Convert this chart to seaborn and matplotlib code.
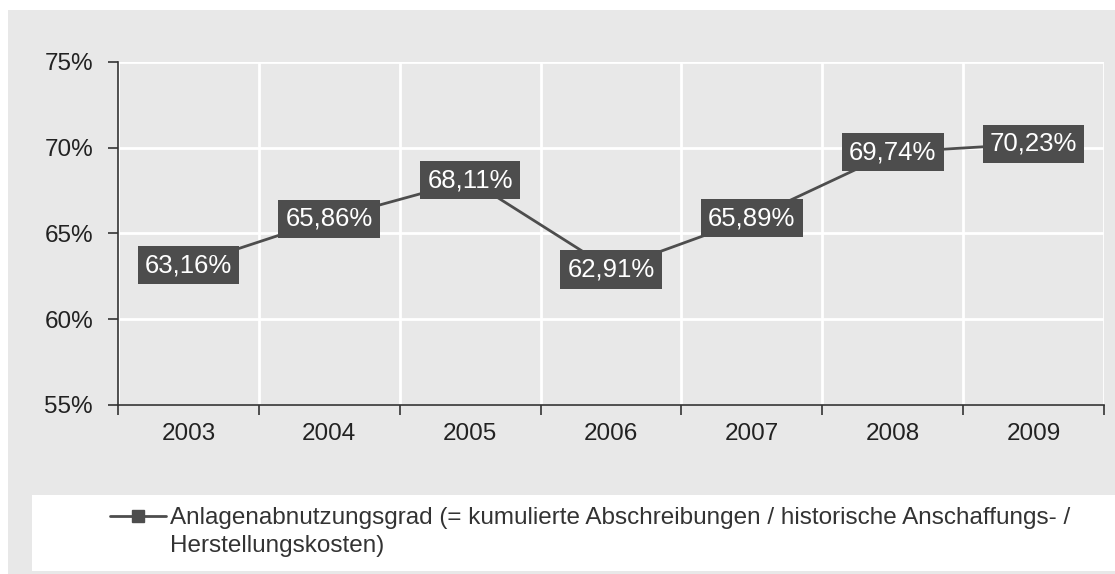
import pandas as pd
import matplotlib
matplotlib.use("Agg")
import matplotlib.pyplot as plt
from matplotlib.patches import Rectangle
from matplotlib.lines import Line2D
import seaborn as sns

# Daten
jahre = ["2003", "2004", "2005", "2006", "2007", "2008", "2009"]
werte = [63.16, 65.86, 68.11, 62.91, 65.89, 69.74, 70.23]
y_ticks = [55, 60, 65, 70, 75]
legende_z1 = "Anlagenabnutzungsgrad (= kumulierte Abschreibungen / historische Anschaffungs- /"
legende_z2 = "Herstellungskosten)"

grau = "#e8e8e8"
dunkel = "#4d4d4d"

sns.set_theme(style="white", rc={"axes.facecolor": grau})
plt.rcParams["font.family"] = ["Liberation Sans", "DejaVu Sans"]

df = pd.DataFrame({"Jahr": jahre, "Wert": werte})

fig = plt.figure(figsize=(11.15, 5.74), dpi=100, facecolor="white")
# grauer Hintergrund + weisse Legendenbox
fig.patches.append(Rectangle((8 / 1115, 0), 1, 564 / 574, transform=fig.transFigure,
                             facecolor=grau, edgecolor="none", zorder=-10))
fig.patches.append(Rectangle((32 / 1115, 3 / 574), 1, 76 / 574, transform=fig.transFigure,
                             facecolor="white", edgecolor="none", zorder=-9))

ax = fig.add_axes([118 / 1115, 1 - 405 / 574, (1104 - 118) / 1115, (405 - 62) / 574])
sns.lineplot(data=df, x="Jahr", y="Wert", ax=ax, color=dunkel, linewidth=2, sort=False)

ax.set_xlim(-0.5, len(jahre) - 0.5)
ax.set_ylim(55, 75)
ax.set_yticks(y_ticks)
ax.set_yticklabels([f"{t}%" for t in y_ticks])
ax.set_xticks(range(len(jahre)))
ax.set_xticklabels(jahre)
ax.set_xticks([i - 0.5 for i in range(len(jahre) + 1)], minor=True)
ax.set_xlabel("")
ax.set_ylabel("")

ax.grid(True, axis="y", which="major", color="white", linewidth=2)
ax.grid(True, axis="x", which="minor", color="white", linewidth=2)
ax.set_axisbelow(True)

for s in ["top", "right"]:
    ax.spines[s].set_visible(False)
for s in ["left", "bottom"]:
    ax.spines[s].set_color("#333333")
    ax.spines[s].set_linewidth(1.2)

ax.tick_params(axis="y", which="major", direction="out", length=7, width=1.2,
               color="#333333", labelsize=17.5, labelcolor="#222222", pad=11, left=True)
ax.tick_params(axis="x", which="major", length=0, labelsize=17.5, labelcolor="#222222", pad=13)
ax.tick_params(axis="x", which="minor", direction="out", length=7, width=1.2,
               color="#333333", bottom=True)

for i, v in enumerate(werte):
    ax.text(i, v, f"{v:.2f}%".replace(".", ","), ha="center", va="center",
            fontsize=18.5, color="white",
            bbox=dict(boxstyle="square,pad=0.28", facecolor=dunkel, edgecolor="none"))

handle = Line2D([], [], color=dunkel, linewidth=2, marker="s", markersize=8)
leer = Line2D([], [], color="none")
fig.legend([handle, leer], [legende_z1, legende_z2], loc="upper left",
           bbox_to_anchor=(98 / 1115, 1 - 495 / 574), frameon=False,
           fontsize=17.5, labelcolor="#333333", handlelength=2.3, handletextpad=0.15,
           labelspacing=0.25, borderpad=0)

fig.savefig("out.png", dpi=100, facecolor="white")
